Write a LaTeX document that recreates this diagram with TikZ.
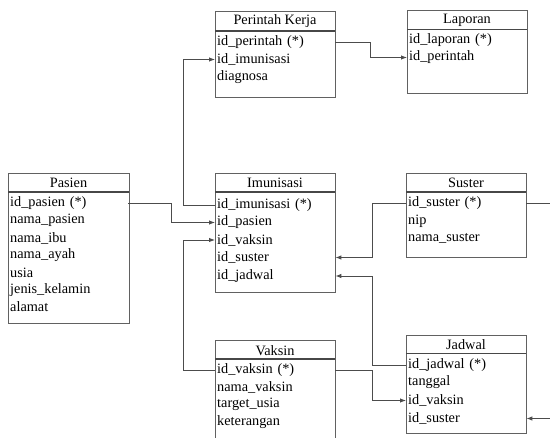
\documentclass[tikz,border=0pt]{standalone}
\usepackage{fontspec}
\setmainfont{Liberation Serif}
\usetikzlibrary{arrows.meta}
\begin{document}
\begin{tikzpicture}[x=1pt,y=-1pt,
  tbox/.style={draw=black!62,line width=0.9pt,inner sep=0pt,anchor=north west,minimum width=120pt},
  ttitle/.style={font=\fontsize{14.3}{17}\selectfont,inner sep=1pt},
  trow/.style={font=\fontsize{14.3}{17}\selectfont,anchor=west,inner sep=0pt,inner xsep=2pt,text width=116pt,align=left,minimum height=15pt},
  hdr/.style={draw=black!72,line width=1.7pt},
  conn/.style={draw=black!70,line width=0.9pt},
  arr/.style={conn,-{Latex[length=6pt,width=4.5pt]}}]
\useasboundingbox (0,0) rectangle (550,438);
\clip (0,0) rectangle (550,438);
\fill[white] (0,0) rectangle (550,438);

% Perintah Kerja
\node[tbox,minimum height=86pt] (pk) at (215,11) {};
\node[ttitle] (pkt) at (275,21) {Perintah Kerja};
\draw[hdr] (215,31) -- (335,31);
\node[trow] (pk1) at (215,42) {id\_perintah (*)};
\node[trow] (pk2) at (215,59.5) {id\_imunisasi};
\node[trow] (pk3) at (215,77) {diagnosa};

% Laporan
\node[tbox,minimum height=83pt] (lp) at (407,10) {};
\node[ttitle] (lpt) at (467,20) {Laporan};
\draw[hdr] (407,29.5) -- (527,29.5);
\node[trow] (lp1) at (407,40) {id\_laporan (*)};
\node[trow] (lp2) at (407,57.5) {id\_perintah};

% Pasien
\node[tbox,minimum width=121pt,minimum height=150pt] (ps) at (8,173) {};
\node[ttitle] (pst) at (68.5,183) {Pasien};
\draw[hdr] (8,192) -- (129,192);
\node[trow] (ps1) at (8,203) {id\_pasien (*)};
\node[trow] (ps2) at (8,220.5) {nama\_pasien};
\node[trow] (ps3) at (8,238) {nama\_ibu};
\node[trow] (ps4) at (8,255) {nama\_ayah};
\node[trow] (ps5) at (8,272.5) {usia};
\node[trow] (ps6) at (8,290) {jenis\_kelamin};
\node[trow] (ps7) at (8,307) {alamat};

% Imunisasi
\node[tbox,minimum height=119pt] (im) at (215,173) {};
\node[ttitle] (imt) at (275,183) {Imunisasi};
\draw[hdr] (215,192) -- (335,192);
\node[trow] (im1) at (215,205) {id\_imunisasi (*)};
\node[trow] (im2) at (215,222.5) {id\_pasien};
\node[trow] (im3) at (215,240) {id\_vaksin};
\node[trow] (im4) at (215,257.5) {id\_suster};
\node[trow] (im5) at (215,276) {id\_jadwal};

% Suster
\node[tbox,minimum height=84pt] (su) at (406,173) {};
\node[ttitle] (sut) at (466,183) {Suster};
\draw[hdr] (406,192) -- (526,192);
\node[trow] (su1) at (406,203.5) {id\_suster (*)};
\node[trow] (su2) at (406,221) {nip};
\node[trow] (su3) at (406,238) {nama\_suster};

% Vaksin
\node[tbox,minimum height=110pt] (vk) at (215,340) {};
\node[ttitle] (vkt) at (275,350.5) {Vaksin};
\draw[hdr] (215,359) -- (335,359);
\node[trow] (vk1) at (215,370) {id\_vaksin (*)};
\node[trow] (vk2) at (215,387.5) {nama\_vaksin};
\node[trow] (vk3) at (215,404.5) {target\_usia};
\node[trow] (vk4) at (215,422) {keterangan};

% Jadwal
\node[tbox,minimum height=98pt] (jd) at (406,335) {};
\node[ttitle] (jdt) at (466,344.5) {Jadwal};
\draw[hdr] (406,353.5) -- (526,353.5);
\node[trow] (jd1) at (406,365) {id\_jadwal (*)};
\node[trow] (jd2) at (406,382.5) {tanggal};
\node[trow] (jd3) at (406,400.5) {id\_vaksin};
\node[trow] (jd4) at (406,418.5) {id\_suster};

% connectors
\draw[arr] (im1.west) -- ++(-32,0) |- (pk2.west);
\draw[arr] (ps1.east) -- ++(43,0) |- (im2.west);
\draw[arr] (vk1.west) -- ++(-32,0) |- (im3.west);
\draw[arr] (su1.west) -- ++(-34,0) |- (im4.east);
\draw[arr] (jd1.west) -- ++(-34,0) |- (im5.east);
\draw[arr] (vk1.east) -- ++(37,0) |- (jd3.west);
\draw[arr] (pk1.east) -- ++(35,0) |- (lp2.west);
\coordinate (suout) at (552,203.5);
\coordinate (jdin) at (552,418.5);
\draw[conn] (su1.east) -- (suout);
\draw[arr] (jdin) -- (jd4.east);
\end{tikzpicture}
\end{document}
